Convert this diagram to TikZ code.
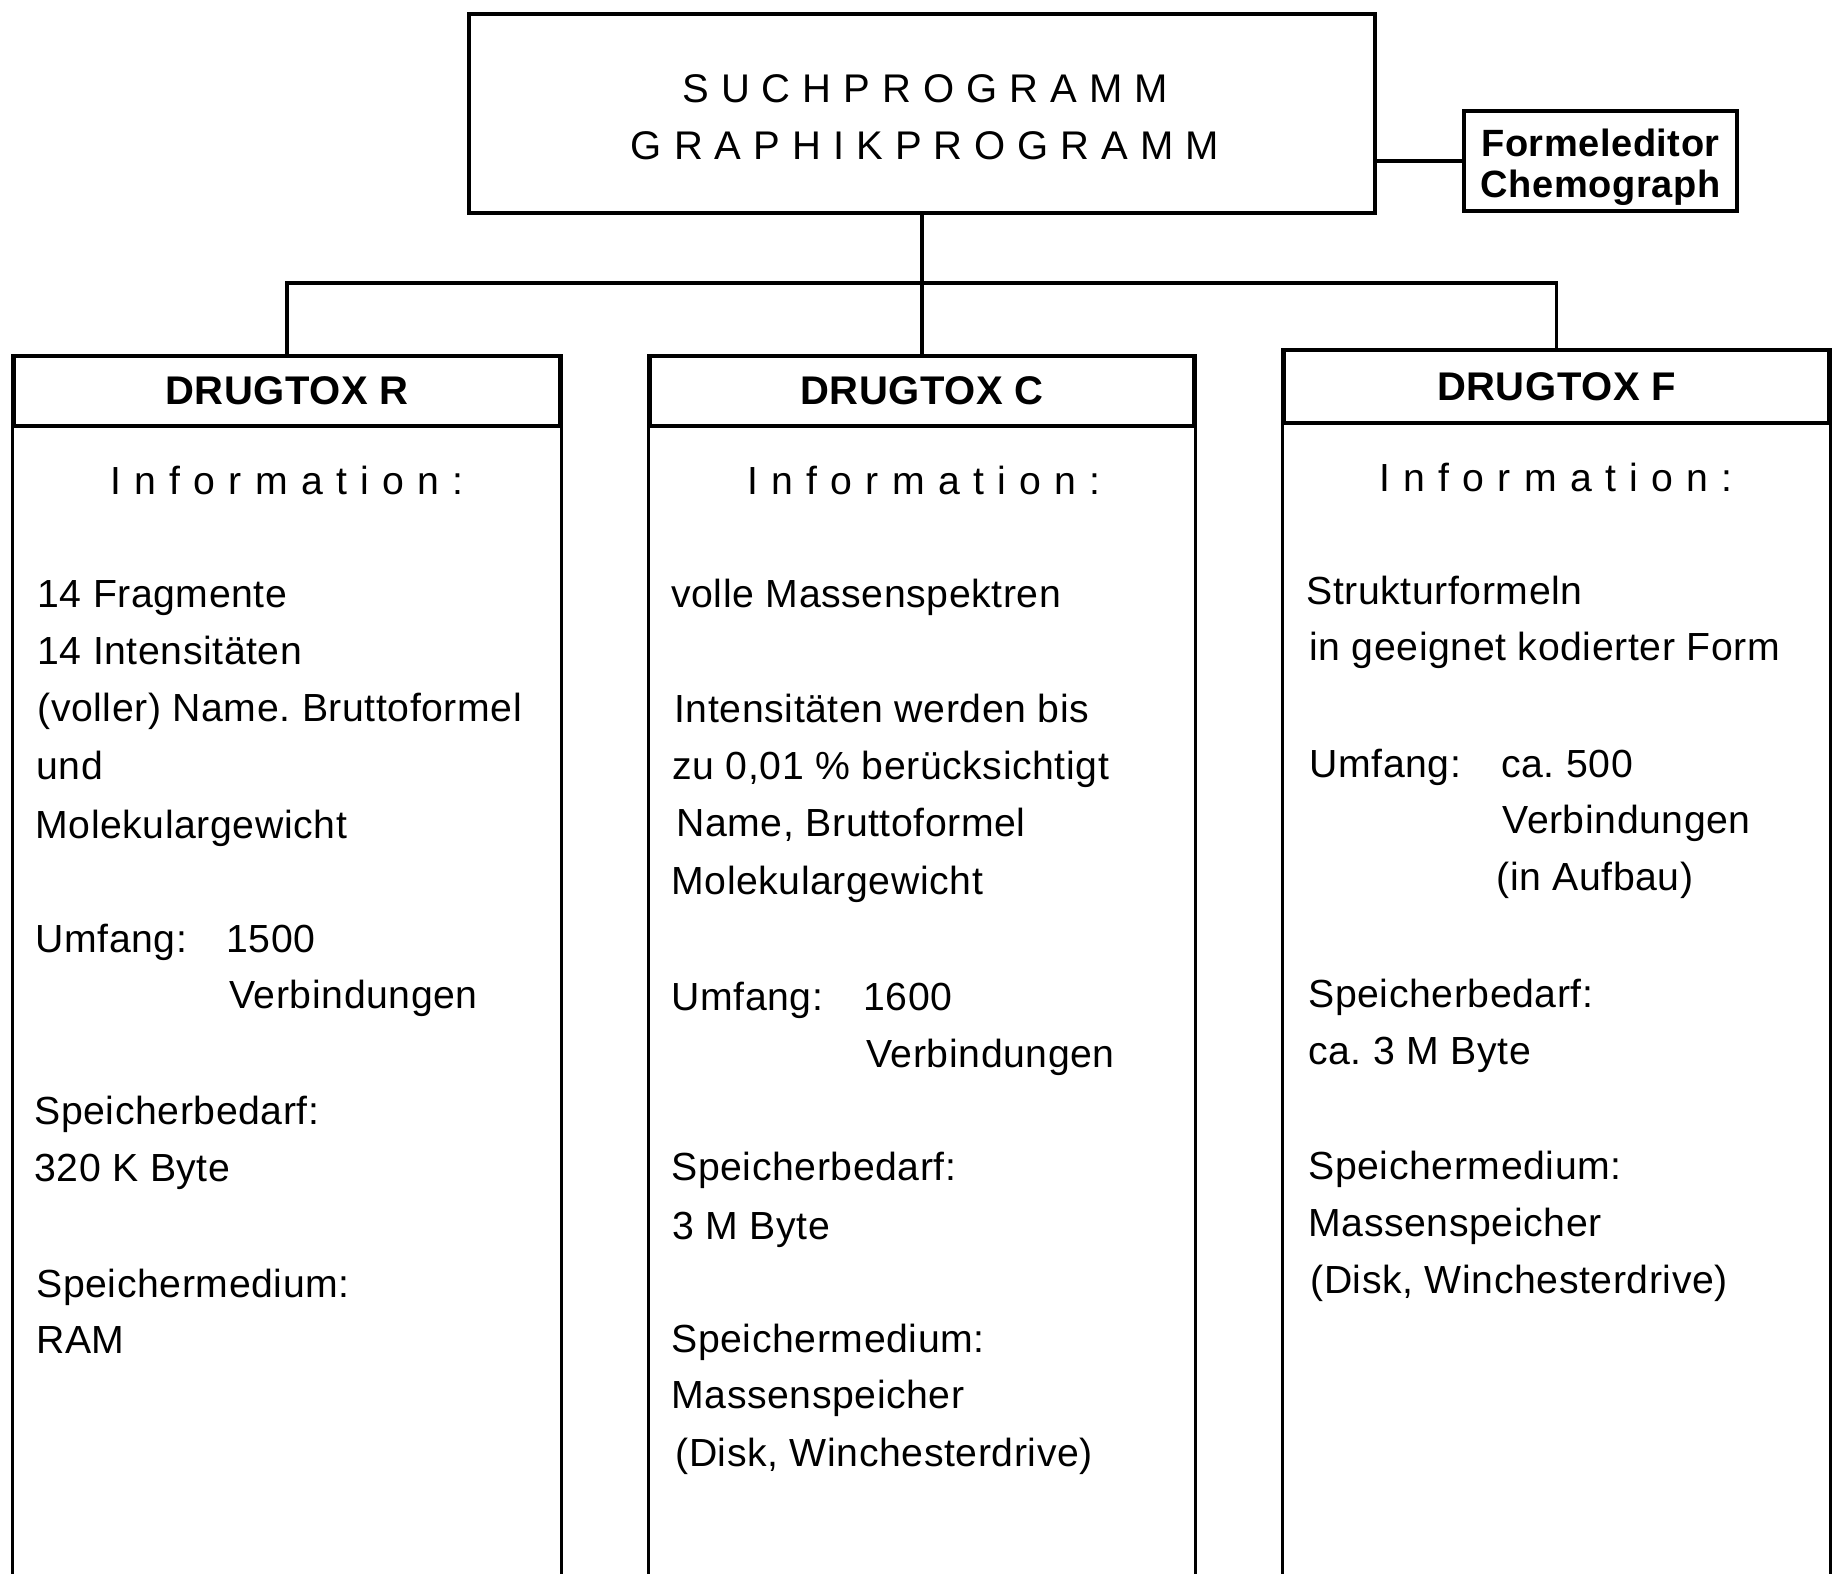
\documentclass[tikz,border=0pt]{standalone}
\usepackage{fontspec}
\setmainfont[LetterSpace=1.5]{Liberation Sans}
\newfontfamily\spacedfont[LetterSpace=30]{Liberation Sans}
\newfontfamily\infofont[LetterSpace=34]{Liberation Sans}
\begin{document}
\frenchspacing
\begin{tikzpicture}[x=0.5pt,y=-0.5pt,
  box/.style={draw, line width=1.6pt, inner sep=0pt},
  conn/.style={line width=1.6pt},
  txt/.style={anchor=base west, inner sep=0pt, font=\fontsize{19.6}{24}\selectfont},
  info/.style={anchor=base, inner sep=0pt, font=\fontsize{19.6}{24}\selectfont\infofont},
  head/.style={box, font=\fontsize{20}{24}\selectfont\bfseries}]
\useasboundingbox (0,0) rectangle (1834,1573);

% top box
\node[box, minimum width=453pt, minimum height=99.5pt] (top) at (922,113.5) {};
\node[anchor=base, inner sep=0pt, font=\fontsize{20}{24}\selectfont\spacedfont] (t1) at (925,103) {SUCHPROGRAMM};
\node[anchor=base, inner sep=0pt, font=\fontsize{20}{24}\selectfont\spacedfont] (t2) at (925,160) {GRAPHIKPROGRAMM};
\node[box, minimum width=136.5pt, minimum height=50pt] (fe) at (1600.5,161) {};
\node[anchor=base, inner sep=0pt, font=\fontsize{19}{21}\selectfont\bfseries] (fe1) at (1600.5,157) {Formeleditor};
\node[anchor=base, inner sep=0pt, font=\fontsize{19}{21}\selectfont\bfseries] (fe2) at (1600.5,198) {Chemograph};
\draw[conn] (fe.west) -- (fe.west -| top.east);

% headers
\node[head, minimum width=273pt, minimum height=35pt] (L) at (287,391) {DRUGTOX R};
\node[head, minimum width=272pt, minimum height=35pt] (C) at (922,391) {DRUGTOX C};
\node[head, minimum width=272.5pt, minimum height=36.5pt, text depth=0pt] (F) at (1556.5,386.5) {DRUGTOX F};

% connectors
\coordinate (bus) at (922,283);
\draw[conn] (top.south) -- (C.north);
\draw[conn] (L.north) |- (bus) -| (F.north);

% box sides
\foreach \n in {L,C,F}{
  \draw[conn] (\n.north west) -- (\n.north west |- 0,1600);
  \draw[conn] (\n.north east) -- (\n.north east |- 0,1600);
}

% Information headings
\node[info] (iL) at (287,494) {Information:};
\node[info] (iC) at (924,494) {Information:};
\node[info] (iF) at (1556,491) {Information:};

% left column
\node[txt] (l1) at (37,607) {14 Fragmente};
\node[txt] (l2) at (37,664) {14 Intensitäten};
\node[txt] (l3) at (37,721) {(voller) Name. Bruttoformel};
\node[txt] (l4) at (36,779) {und};
\node[txt] (l5) at (35,838) {Molekulargewicht};
\node[txt] (l6) at (35,952) {Umfang:};
\node[txt] (l6b) at (226,952) {1500};
\node[txt] (l7) at (229,1008) {Verbindungen};
\node[txt] (l8) at (34,1124) {Speicherbedarf:};
\node[txt] (l9) at (34,1181) {320 K Byte};
\node[txt] (l10) at (36,1297) {Speichermedium:};
\node[txt] (l11) at (36,1353) {RAM};

% middle column
\node[txt] (c1) at (671,607) {volle Massenspektren};
\node[txt] (c2) at (674,722) {Intensitäten werden bis};
\node[txt] (c3) at (672,779) {zu 0,01 \% berücksichtigt};
\node[txt] (c4) at (676,836) {Name, Bruttoformel};
\node[txt] (c5) at (671,894) {Molekulargewicht};
\node[txt] (c6) at (671,1010) {Umfang:};
\node[txt] (c6b) at (863,1010) {1600};
\node[txt] (c7) at (866,1067) {Verbindungen};
\node[txt] (c8) at (671,1180) {Speicherbedarf:};
\node[txt] (c9) at (672,1239) {3 M Byte};
\node[txt] (c10) at (671,1352) {Speichermedium:};
\node[txt] (c11) at (671,1408) {Massenspeicher};
\node[txt] (c12) at (675,1466) {(Disk, Winchesterdrive)};

% right column
\node[txt] (r1) at (1306,604) {Strukturformeln};
\node[txt] (r2) at (1309,660) {in geeignet kodierter Form};
\node[txt] (r3) at (1309,777) {Umfang:};
\node[txt] (r3b) at (1501,777) {ca. 500};
\node[txt] (r4) at (1502,833) {Verbindungen};
\node[txt] (r5) at (1496,890) {(in Aufbau)};
\node[txt] (r6) at (1308,1007) {Speicherbedarf:};
\node[txt] (r7) at (1308,1064) {ca. 3 M Byte};
\node[txt] (r8) at (1308,1179) {Speichermedium:};
\node[txt] (r9) at (1308,1236) {Massenspeicher};
\node[txt] (r10) at (1310,1293) {(Disk, Winchesterdrive)};
\end{tikzpicture}
\end{document}
